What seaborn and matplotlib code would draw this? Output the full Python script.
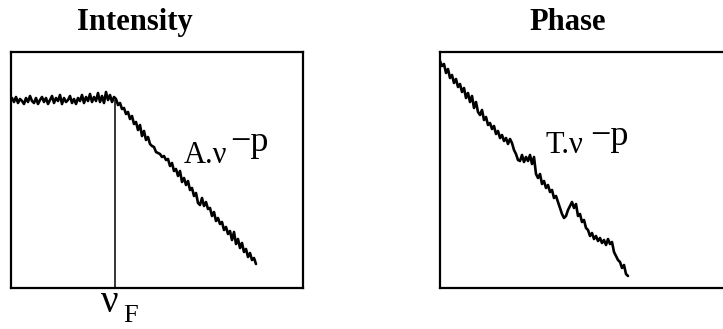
import numpy as np
import seaborn as sns
import matplotlib.pyplot as plt

# intensity spectrum: flat part up to nu_F, then power-law roll-off (arbitrary units)
intensity_flat = [190, 186, 191, 185, 189, 187, 184, 190, 186, 192, 187, 185, 190, 184, 188,
                  191, 186, 190, 184, 188, 192, 185, 190, 187, 193, 184, 190, 186, 188, 192,
                  185, 189, 184, 190, 187, 193, 185, 191, 187, 194, 186, 191, 187, 195, 186,
                  192, 185, 196, 188, 193, 186, 191]
intensity_rolloff = [189, 183, 185, 179, 180, 174, 176, 169, 172, 164, 166, 158, 163, 152, 157,
                     148, 151, 144, 142, 141, 136, 135, 134, 131, 132, 128, 129, 122, 125, 117,
                     119, 112, 117, 106, 110, 103, 107, 98, 100, 92, 95, 85, 83, 90, 82,
                     86, 79, 80, 72, 76, 67, 70, 64, 66, 58, 61, 54, 57, 48, 56,
                     44, 49, 40, 45, 36, 39, 31, 35, 28, 30, 24]
intensity = intensity_flat + intensity_rolloff
intensity_freq = np.arange(1, 246, 2)
nu_F = 104

# phase spectrum: power law over the whole range
phase = [227, 222, 224, 215, 219, 210, 213, 205, 209, 201, 204, 196, 200, 190, 195, 186, 192, 180, 186,
         176, 173, 178, 168, 171, 163, 165, 159, 162, 154,
         157, 150, 153, 147, 150, 144, 149, 145, 138, 134,
         128, 127, 133, 126, 131, 127, 133, 124, 131, 114,
         110, 114, 104, 107, 100, 103, 96, 98, 90, 92,
         86, 80, 74, 70, 72, 78, 82, 86, 80, 84,
         72, 74, 66, 68, 60, 58, 52, 55, 49, 52,
         47, 50, 45, 48, 43, 49, 44, 46, 36, 32,
         28, 26, 20, 23, 14, 12]
phase_freq = np.arange(0, 189, 2)

sns.set_style("white")
plt.rcParams["font.family"] = ["Liberation Serif", "DejaVu Serif"]
plt.rcParams["text.color"] = "black"

W, H = 723, 329
fig = plt.figure(figsize=(W / 100, H / 100), dpi=100)

def px(x, y):
    return x / W, 1 - y / H

ax1 = fig.add_axes([11 / W, (H - 288) / H, 292 / W, 236 / H])
ax2 = fig.add_axes([440 / W, (H - 288) / H, 283 / W, 236 / H])

sns.lineplot(x=intensity_freq, y=intensity, ax=ax1, color="black", lw=1.9)
ax1.vlines(nu_F, 0, 188, color="black", lw=1.1)
sns.lineplot(x=phase_freq, y=phase, ax=ax2, color="black", lw=1.9)

ax1.set_xlim(0, 292)
ax2.set_xlim(0, 283)
for ax in (ax1, ax2):
    ax.set_ylim(0, 236)
    ax.set_xticks([])
    ax.set_yticks([])
    for s in ax.spines.values():
        s.set_linewidth(1.6)
        s.set_color("black")
ax2.spines["right"].set_visible(False)

fig.text(*px(135, 30), "Intensity", ha="center", va="baseline", fontsize=22, fontweight="bold")
fig.text(*px(568, 30), "Phase", ha="center", va="baseline", fontsize=22, fontweight="bold")

# labels as "A.ν" with a raised "−p"
fig.text(*px(184, 163), "A.ν", fontsize=22, ha="left", va="baseline")
fig.text(*px(230, 151), "\u2212p", fontsize=26, ha="left", va="baseline")

fig.text(*px(546, 153), "T.ν", fontsize=22, ha="left", va="baseline")
fig.text(*px(590, 145), "\u2212p", fontsize=26, ha="left", va="baseline")

fig.text(*px(101, 312), "ν", fontsize=28, ha="left", va="baseline")
fig.text(*px(123, 322), "F", fontsize=19, ha="left", va="baseline")

fig.savefig("out.png", dpi=100)
